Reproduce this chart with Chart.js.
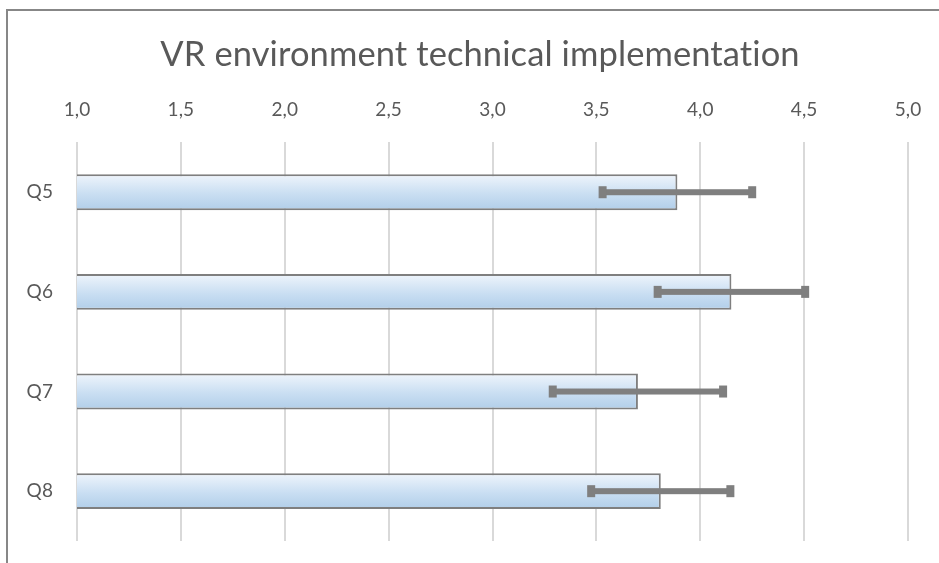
<!DOCTYPE html>
<html>
<head>
<meta charset="utf-8">
<script src="https://cdn.jsdelivr.net/npm/chart.js@4.4.0/dist/chart.umd.min.js"></script>
<style>
  body { margin: 0; background: #fff; }
  .wrap { position: relative; width: 939px; height: 563px; overflow: hidden; }
  .frame { position: absolute; left: 6px; top: 9px; width: 2000px; height: 2000px;
           border-top: 2px solid #878787; border-left: 2px solid #878787; }
  canvas { position: absolute; left: 0; top: 0; }
</style>
</head>
<body>
<div class="wrap">
  <div class="frame"></div>
  <canvas id="chart" width="939" height="563"></canvas>
</div>
<script>
const questions = ["Q5", "Q6", "Q7", "Q8"];
const means = [3.89, 4.15, 3.70, 3.81];
const errors = [0.36, 0.355, 0.41, 0.335];

const gray = "#595959";

// bars get a light-to-darker blue vertical gradient
function barFill(ctx) {
  const chart = ctx.chart;
  const y = chart.scales.y;
  if (!y || ctx.dataIndex === undefined) return "#c6dcf1";
  const center = y.getPixelForValue(ctx.dataIndex);
  const half = (y.height / questions.length) * 0.36 / 2;
  if (!isFinite(center) || !isFinite(half) || half <= 0) return "#c6dcf1";
  const g = chart.ctx.createLinearGradient(0, center - half, 0, center + half);
  g.addColorStop(0, "#eff5fc");
  g.addColorStop(0.55, "#c9def2");
  g.addColorStop(1, "#b1cee9");
  return g;
}

// no "ti" ligature, like the original
const noLigatures = {
  id: "noLigatures",
  beforeDraw(chart) {
    chart.ctx.textRendering = "optimizeSpeed";
    chart.ctx.letterSpacing = "0.1px";
  }
};

const errorBars = {
  id: "errorBars",
  afterDatasetsDraw(chart) {
    const ctx = chart.ctx;
    const x = chart.scales.x;
    const meta = chart.getDatasetMeta(0);
    ctx.save();
    ctx.fillStyle = "#7f7f7f";
    meta.data.forEach((bar, i) => {
      const x0 = x.getPixelForValue(means[i] - errors[i]);
      const x1 = x.getPixelForValue(means[i] + errors[i]);
      const yc = bar.y;
      ctx.fillRect(x0, yc - 3, x1 - x0, 6);
      ctx.fillRect(x0 - 4, yc - 6, 8, 12);
      ctx.fillRect(x1 - 4, yc - 6, 8, 12);
    });
    ctx.restore();
  }
};

new Chart(document.getElementById("chart"), {
  type: "bar",
  data: {
    labels: questions,
    datasets: [{
      data: means,
      xAxisID: "x",
      yAxisID: "y",
      backgroundColor: barFill,
      borderColor: "#7f7f7f",
      borderWidth: 2,
      borderSkipped: false,
      barPercentage: 0.36,
      categoryPercentage: 1.0
    }]
  },
  options: {
    indexAxis: "y",
    responsive: false,
    animation: false,
    layout: { padding: { left: 21, right: 0, top: 0, bottom: 22 } },
    plugins: {
      legend: { display: false },
      tooltip: { enabled: false },
      title: {
        display: true,
        text: "VR environment technical implementation",
        color: gray,
        font: { family: "Lato", size: 34.5, weight: "normal" },
        padding: { top: 34, bottom: 25 }
      }
    },
    scales: {
      x: {
        position: "top",
        min: 1,
        max: 5,
        afterFit(scale) { scale.height = 42; },
        ticks: {
          stepSize: 0.5,
          color: gray,
          padding: 3,
          font: { family: "Lato", size: 19 },
          callback: (v) => v.toFixed(1).replace(".", ",")
        },
        grid: {
          color: "#d9d9d9",
          lineWidth: 2,
          tickLength: 18,
          tickColor: "rgba(0,0,0,0)"
        },
        border: { display: false }
      },
      y: {
        afterFit(scale) { scale.width = 56; },
        ticks: {
          color: gray,
          padding: 4,
          font: { family: "Lato", size: 19 }
        },
        grid: { display: false, tickLength: 20 },
        border: { display: false }
      },
      // empty strip on the right so the plot ends before the frame does
      rightPad: {
        type: "linear",
        axis: "y",
        position: "right",
        afterFit(scale) { scale.width = 31; },
        ticks: { display: false, padding: 0 },
        grid: { display: false },
        border: { display: false }
      }
    }
  },
  plugins: [noLigatures, errorBars]
});
</script>
</body>
</html>
